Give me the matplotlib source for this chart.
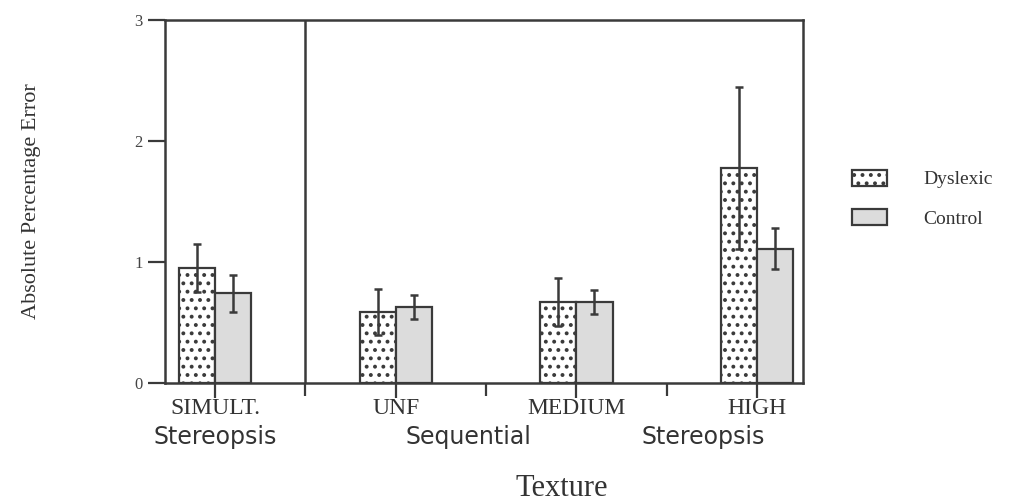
import matplotlib
matplotlib.use('Agg')
import matplotlib.pyplot as plt
import matplotlib.transforms as mtransforms
import numpy as np

groups = ['SIMULT.', 'UNF', 'MEDIUM', 'HIGH']
subtitles = ['Stereopsis', 'Sequential', 'Stereopsis']
subtitle_pos = [0.0, 1.405, 2.70]
dyslexic = [0.95, 0.59, 0.67, 1.78]
dyslexic_err = [0.20, 0.19, 0.20, 0.67]
control = [0.74, 0.63, 0.67, 1.11]
control_err = [0.15, 0.10, 0.10, 0.17]

ink = '#3a3a3a'
plt.rcParams['hatch.color'] = ink
plt.rcParams['hatch.linewidth'] = 1.6
serif = 'Liberation Serif'

fig = plt.figure(figsize=(10.35, 5.04), dpi=100)
ax = fig.add_axes([165 / 1035, 1 - 383 / 504, (803 - 165) / 1035, (383 - 20) / 504])

x = np.arange(len(groups))
w = 0.2
ax.bar(x - w / 2, dyslexic, w, color='white', edgecolor=ink, linewidth=1.6,
       hatch='..', label='Dyslexic', zorder=2)
ax.bar(x + w / 2, control, w, color='#dcdcdc', edgecolor=ink, linewidth=1.6,
       label='Control', zorder=2)
ax.errorbar(x - w / 2, dyslexic, yerr=dyslexic_err, fmt='none', ecolor=ink,
            elinewidth=1.8, capsize=3, capthick=1.8, zorder=3)
ax.errorbar(x + w / 2, control, yerr=control_err, fmt='none', ecolor=ink,
            elinewidth=1.8, capsize=3, capthick=1.8, zorder=3)

ax.set_xlim(-0.277, 3.254)
ax.set_ylim(0, 3)
ax.set_yticks([0, 1, 2, 3])
ax.set_yticklabels(['0', '1', '2', '3'], fontfamily=serif, fontsize=12, color='#444444')
ax.set_xticks(x)
ax.set_xticklabels(groups, fontfamily=serif, fontsize=17, color='#333333')
ax.set_xticks([0.5, 1.5, 2.5], minor=True)
ax.tick_params(axis='y', length=12, width=1.6, color=ink, pad=4)
ax.tick_params(axis='x', which='major', length=11, width=1.6, color=ink, pad=0)
ax.tick_params(axis='x', which='minor', length=9, width=1.6, color=ink)
for s in ax.spines.values():
    s.set_linewidth(1.8)
    s.set_color(ink)
ax.axvline(0.5, color=ink, linewidth=1.8, zorder=1)

trans = mtransforms.blended_transform_factory(ax.transData, ax.transAxes)
for pos, lab in zip(subtitle_pos, subtitles):
    ax.text(pos, -0.149, lab, transform=trans, ha='center', va='center',
            fontfamily='DejaVu Sans', fontsize=17, color='#333333')

fig.text(32 / 1035, 1 - 201 / 504, 'Absolute Percentage Error', rotation=90,
         ha='center', va='center', fontfamily=serif, fontsize=16, color='#333333')
fig.text(562 / 1035, 1 - 488 / 504, 'Texture', ha='center', va='center',
         fontfamily=serif, fontsize=22, color='#333333')

fig.legend(loc='upper left', bbox_to_anchor=(842 / 1035, 1 - 160 / 504),
           frameon=False, prop={'family': serif, 'size': 14},
           handlelength=1.8, handleheight=0.9, handletextpad=1.9,
           labelspacing=1.05, borderpad=0, labelcolor='#333333')

fig.savefig('out.png', dpi=100)
